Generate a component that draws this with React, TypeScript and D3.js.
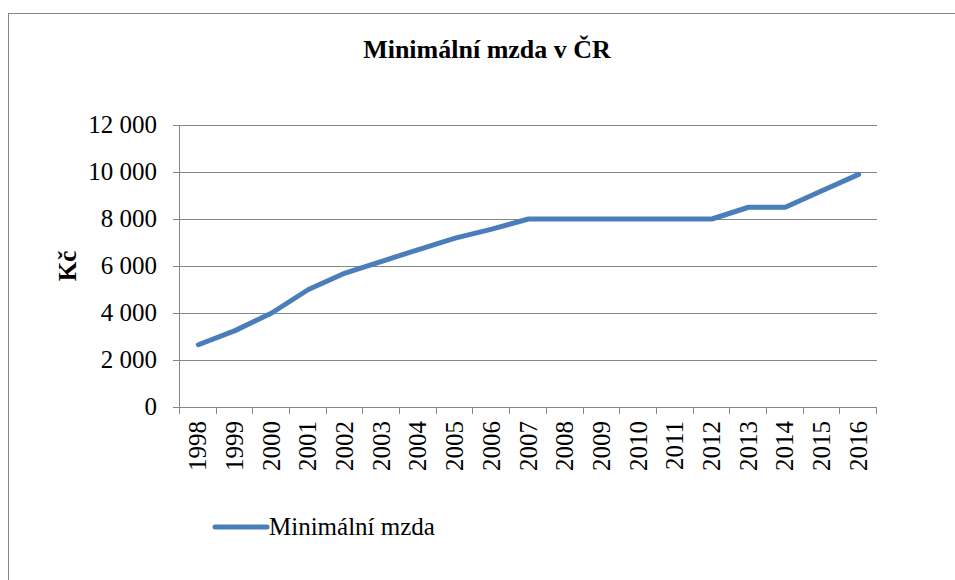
import React from 'react';
import { scaleBand, scaleLinear, line } from 'd3';

const years = ['1998', '1999', '2000', '2001', '2002', '2003', '2004', '2005', '2006', '2007',
  '2008', '2009', '2010', '2011', '2012', '2013', '2014', '2015', '2016'];
const wages = [2650, 3250, 4000, 5000, 5700, 6200, 6700, 7185, 7570, 8000,
  8000, 8000, 8000, 8000, 8000, 8500, 8500, 9200, 9900];
const yTicks = [0, 2000, 4000, 6000, 8000, 10000, 12000];

const W = 955;
const H = 580;
const FONT = '"Liberation Serif", "Times New Roman", serif';

const fmt = (v: number) => {
  const s = String(v);
  return s.length > 3 ? s.slice(0, s.length - 3) + ' ' + s.slice(-3) : s;
};

export default function App() {
  const left = 180, right = 877, top = 125, bottom = 407;

  const x = scaleBand<string>().domain(years).range([left, right]);
  const y = scaleLinear().domain([0, 12000]).range([bottom, top]);

  const path = line<number>()
    .x((d, i) => (x(years[i]) as number) + x.bandwidth() / 2)
    .y(d => y(d))(wages);

  const grid = '#868686';

  return (
    <svg width={W} height={H} style={{ position: 'absolute', left: 0, top: 0, background: '#fff' }}
      fontFamily={FONT}>
      <rect x={8.5} y={13.5} width={W + 10} height={H + 10} fill="none" stroke={grid} strokeWidth={1} />

      <text x={487} y={58} textAnchor="middle" fontSize={26} fontWeight="bold">Minimální mzda v ČR</text>

      {/* gridlines + y labels */}
      {yTicks.map(t => (
        <g key={t}>
          <line x1={left - 7} x2={right} y1={Math.round(y(t)) + 0.5} y2={Math.round(y(t)) + 0.5}
            stroke={grid} strokeWidth={1} />
          <text x={157} y={y(t) + 8} textAnchor="end" fontSize={25}>{fmt(t)}</text>
        </g>
      ))}

      {/* y axis */}
      <line x1={left - 0.5} x2={left - 0.5} y1={top} y2={bottom} stroke={grid} strokeWidth={1} />

      <text transform={`translate(76,${(top + bottom) / 2}) rotate(-90)`} textAnchor="middle"
        fontSize={25} fontWeight="bold">Kč</text>

      {/* x ticks */}
      {years.concat(['end']).map((yr, i) => {
        const xp = Math.round(left + i * x.step()) - 0.5;
        return <line key={yr} x1={xp} x2={xp} y1={bottom} y2={bottom + 7} stroke={grid} strokeWidth={1} />;
      })}

      {years.map(yr => (
        <text key={yr} transform={`translate(${(x(yr) as number) + x.bandwidth() / 2 + 8},${bottom + 14}) rotate(-90)`}
          textAnchor="end" fontSize={25}>{yr}</text>
      ))}

      <path d={path || ''} fill="none" stroke="#4a7ebb" strokeWidth={5} strokeLinejoin="round" strokeLinecap="round" />

      {/* legend */}
      <line x1={215} x2={267} y1={527} y2={527} stroke="#4a7ebb" strokeWidth={5} strokeLinecap="round" />
      <text x={269} y={535} fontSize={25}>Minimální mzda</text>
    </svg>
  );
}
